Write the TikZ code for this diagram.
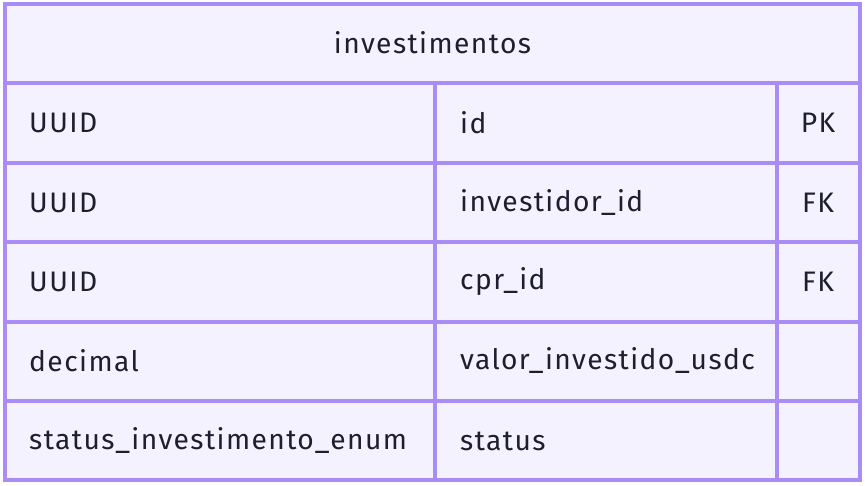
\documentclass[tikz,border=0pt]{standalone}
\usepackage{fontspec}
\setmainfont[LetterSpace=5]{Fira Sans}
\definecolor{erline}{HTML}{A98CF6}
\definecolor{erfill}{HTML}{F4F2FE}
\definecolor{ertext}{HTML}{1E1E30}
\begin{document}
\begin{tikzpicture}[x=1pt,y=-1pt,
  cell/.style={font=\fontsize{28.2}{32}\selectfont, text=ertext, inner sep=0pt},
  grid/.style={draw=erline, line width=3.5pt}]
\useasboundingbox (0,0) rectangle (865,486);
\fill[white] (0,0) rectangle (865,486);
% table body
\fill[erfill] (5,4) rectangle (860,480);
% row separators
\foreach \y in {83,163,242,322,401}
  \draw[grid] (5,\y) -- (860,\y);
% column separators
\draw[grid] (435,83) -- (435,480);
\draw[grid] (777,83) -- (777,480);
\draw[grid] (5,4) rectangle (860,480);
% title
\node[cell] (title) at (432.5,43) {investimentos};
% rows: type, name, key
\node[cell, anchor=west] (t1) at (29,123) {UUID};
\node[cell, anchor=west] (n1) at (460,123) {id};
\node[cell] (k1) at (818,123) {PK};
\node[cell, anchor=west] (t2) at (29,203) {UUID};
\node[cell, anchor=west] (n2) at (460,203) {investidor\_id};
\node[cell] (k2) at (818,203) {FK};
\node[cell, anchor=west] (t3) at (29,282) {UUID};
\node[cell, anchor=west] (n3) at (460,282) {cpr\_id};
\node[cell] (k3) at (818,282) {FK};
\node[cell, anchor=west] (t4) at (29,361) {decimal};
\node[cell, anchor=west] (n4) at (460,361) {valor\_investido\_usdc};
\node[cell, anchor=west] (t5) at (29,441) {status\_investimento\_enum};
\node[cell, anchor=west] (n5) at (460,441) {status};
\end{tikzpicture}
\end{document}
